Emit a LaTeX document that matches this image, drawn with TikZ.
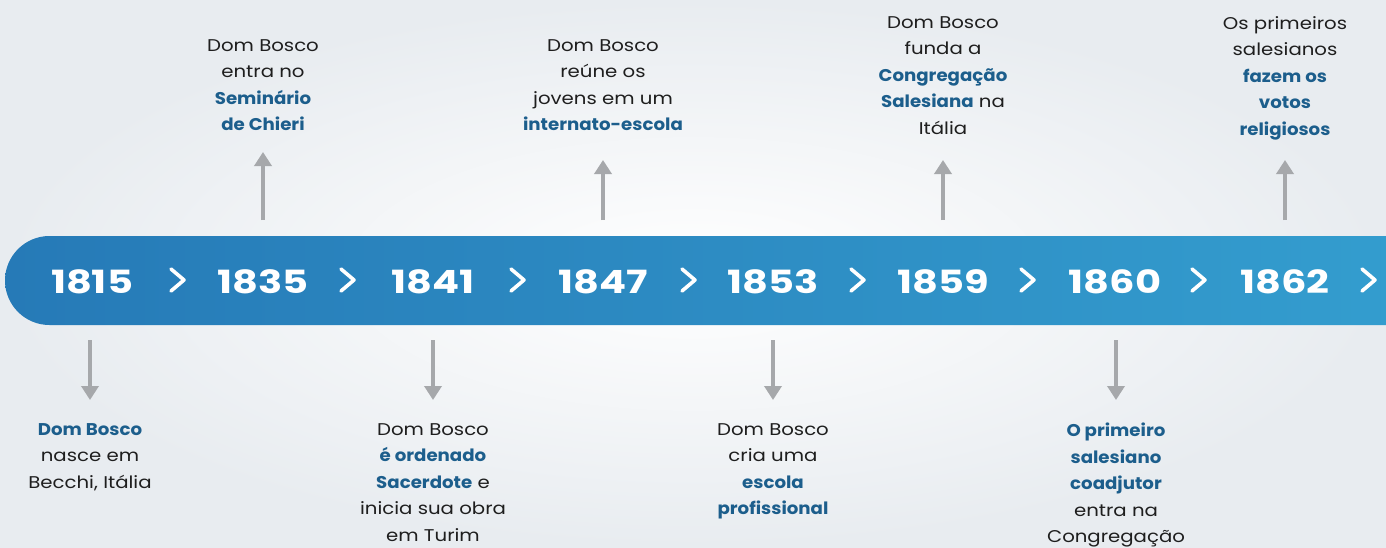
\documentclass[tikz,border=0pt]{standalone}
\usepackage{fontspec}
\setmainfont{Poppins}[FakeStretch=1.16, BoldFeatures={FakeStretch=1.07}]
\newfontfamily\yearfont{Poppins}[FakeStretch=1.25]
\usetikzlibrary{arrows.meta}
\definecolor{bandL}{RGB}{38,122,183}
\definecolor{bandR}{RGB}{52,158,207}
\definecolor{hlblue}{RGB}{28,94,140}
\definecolor{txtdark}{RGB}{30,30,30}
\definecolor{arrgray}{RGB}{166,168,171}
\definecolor{bggray}{RGB}{232,236,240}
\newcommand{\hl}[1]{\textcolor{hlblue}{\bfseries #1}}
\begin{document}
\begin{tikzpicture}[x=1pt,y=-1pt,
  evtxt/.style={align=center, inner sep=0pt, text=txtdark, font=\fontsize{17}{26.5}\selectfont},
  yeartxt/.style={anchor=base, inner sep=0pt, text=white, font=\yearfont\bfseries\fontsize{32}{32}\selectfont},
  chev/.style={draw=white, line width=3.6pt, line cap=round, line join=round},
  tl/.style={draw=arrgray, line width=4.5pt, -{Triangle[width=17pt,length=14pt]}}]
\useasboundingbox (0,0) rectangle (1386,547);
% background
\shade[inner color=white, outer color=bggray] (0,0) rectangle (1386,547);
% band
\shade[left color=bandL, right color=bandR, rounded corners=44.5pt] (5,236) rectangle (1440,325);
% years
\foreach \yr/\x in {1815/92,1835/263,1841/433,1847/603,1853/773,1859/943,1860/1115,1862/1285}{
  \node[yeartxt] (y\yr) at (\x,293) {\yr};
}
% chevrons
\foreach \c [count=\i] in {177,347,517,688,857,1027,1198,1368}{
  \coordinate (c\i a) at (\c-6,269);
  \coordinate (c\i b) at (\c+7,280);
  \coordinate (c\i c) at (\c-6,291);
  \draw[chev] (c\i a) -- (c\i b) -- (c\i c);
}
% down arrows
\foreach \n/\x in {1815/90,1841/433,1853/773,1860/1116}{
  \coordinate (d\n a) at (\x,340);
  \coordinate (d\n b) at (\x,400);
  \draw[tl] (d\n a) -- (d\n b);
}
% up arrows
\foreach \n/\x/\t in {1835/263/152,1847/603/160,1859/943/160,1862/1285/160}{
  \coordinate (u\n a) at (\x,220);
  \coordinate (u\n b) at (\x,\t);
  \draw[tl] (u\n a) -- (u\n b);
}
% bottom texts
\node[evtxt, anchor=north] (t1815) at (90,423) {\hl{Dom Bosco}\\nasce em\\Becchi, Itália};
\node[evtxt, anchor=north] (t1841) at (433,423) {Dom Bosco\\\hl{é ordenado}\\\hl{Sacerdote} e\\inicia sua obra\\em Turim};
\node[evtxt, anchor=north] (t1853) at (773,423) {Dom Bosco\\cria uma\\\hl{escola}\\\hl{profissional}};
\node[evtxt, anchor=north] (t1860) at (1116,423) {\hl{O primeiro}\\\hl{salesiano}\\\hl{coadjutor}\\entra na\\Congregação};
% top texts
\node[evtxt, anchor=north] (t1835) at (263,39) {Dom Bosco\\entra no\\\hl{Seminário}\\\hl{de Chieri}};
\node[evtxt, anchor=north] (t1847) at (603,39) {Dom Bosco\\reúne os\\jovens em um\\\hl{internato-escola}};
\node[evtxt, anchor=north] (t1859) at (943,16) {Dom Bosco\\funda a\\\hl{Congregação}\\\hl{Salesiana} na\\Itália};
\node[evtxt, anchor=north] (t1862) at (1285,16) {Os primeiros\\salesianos\\\hl{fazem os}\\\hl{votos}\\\hl{religiosos}};
\end{tikzpicture}
\end{document}
